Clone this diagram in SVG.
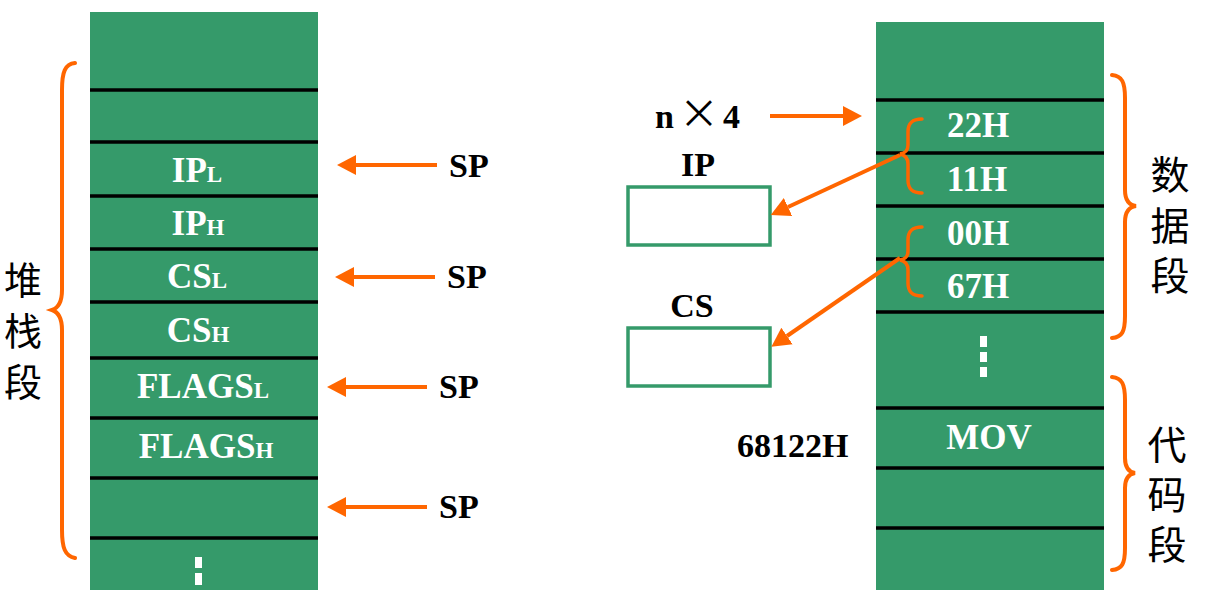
<svg xmlns="http://www.w3.org/2000/svg" width="1208" height="590" viewBox="0 0 1208 590">
<style>
.col{fill:#359a6a}
.sep{stroke:#000;stroke-width:3.5}
.cell{font-family:"Liberation Serif",serif;font-weight:bold;font-size:35px;fill:#fff;text-anchor:middle}
.sub{font-size:23px}
.lbl{font-family:"Liberation Serif",serif;font-weight:bold;font-size:34px;fill:#000}
.cjk{font-family:"Noto Sans CJK SC",sans-serif;font-size:39px;fill:#000;writing-mode:vertical-rl;text-anchor:start}
.br{fill:none;stroke:#ff6600;stroke-width:4;stroke-linecap:round}
.brs{fill:none;stroke:#ff6600;stroke-width:3.5;stroke-linecap:round}
.arr{stroke:#ff6600;stroke-width:4;fill:none}
.box{fill:#fff;stroke:#359a6a;stroke-width:3.5}
.dot{fill:#fff}
</style>
<defs>
<marker id="ah" markerUnits="userSpaceOnUse" markerWidth="20" markerHeight="22" viewBox="0 -11 20 22" refX="0" refY="0" orient="auto">
<path d="M0,-10 L19,0 L0,10 z" fill="#ff6600"/>
</marker>
</defs>

<g id="stack">
<rect class="col" x="90" y="12" width="228" height="578"/>
<line class="sep" x1="90" y1="90" x2="318" y2="90"/>
<line class="sep" x1="90" y1="142" x2="318" y2="142"/>
<line class="sep" x1="90" y1="196" x2="318" y2="196"/>
<line class="sep" x1="90" y1="249" x2="318" y2="249"/>
<line class="sep" x1="90" y1="302" x2="318" y2="302"/>
<line class="sep" x1="90" y1="358" x2="318" y2="358"/>
<line class="sep" x1="90" y1="418" x2="318" y2="418"/>
<line class="sep" x1="90" y1="478" x2="318" y2="478"/>
<line class="sep" x1="90" y1="538" x2="318" y2="538"/>
<text class="cell" x="197" y="182">IP<tspan class="sub">L</tspan></text>
<text class="cell" x="198" y="235">IP<tspan class="sub">H</tspan></text>
<text class="cell" x="197" y="288">CS<tspan class="sub">L</tspan></text>
<text class="cell" x="198" y="342">CS<tspan class="sub">H</tspan></text>
<text class="cell" x="203" y="398">FLAGS<tspan class="sub">L</tspan></text>
<text class="cell" x="206" y="458">FLAGS<tspan class="sub">H</tspan></text>
<rect class="dot" x="195" y="557" width="7" height="11"/>
<rect class="dot" x="195" y="573" width="7" height="12"/>
</g>

<g id="stack-label">
<path class="br" d="M75,63 C65,64 62,72 62,90 L62,290 C62,302 58,308 52,310 C58,312 62,318 62,330 L62,530 C62,548 65,556 75,558"/>
<text class="cjk" x="23" y="261" style="font-size:38px;letter-spacing:13px">堆栈段</text>
</g>

<g id="sp-labels">
<text class="lbl" x="449" y="177">SP</text>
<text class="lbl" x="447" y="288">SP</text>
<text class="lbl" x="439" y="398">SP</text>
<text class="lbl" x="439" y="518">SP</text>
</g>

<g id="memory">
<rect class="col" x="876" y="22" width="228" height="568"/>
<line class="sep" x1="876" y1="100" x2="1104" y2="100"/>
<line class="sep" x1="876" y1="153" x2="1104" y2="153"/>
<line class="sep" x1="876" y1="206" x2="1104" y2="206"/>
<line class="sep" x1="876" y1="259" x2="1104" y2="259"/>
<line class="sep" x1="876" y1="312" x2="1104" y2="312"/>
<line class="sep" x1="876" y1="408" x2="1104" y2="408"/>
<line class="sep" x1="876" y1="468" x2="1104" y2="468"/>
<line class="sep" x1="876" y1="528" x2="1104" y2="528"/>
<text class="cell" x="978" y="137">22H</text>
<text class="cell" x="977" y="191">11H</text>
<text class="cell" x="978" y="245">00H</text>
<text class="cell" x="978" y="298">67H</text>
<text class="cell" x="989" y="449">MOV</text>
<rect class="dot" x="980" y="336" width="7" height="11"/>
<rect class="dot" x="980" y="352" width="7" height="10"/>
<rect class="dot" x="980" y="367" width="7" height="10"/>
<path class="brs" d="M922,119 C912,119 908,123 908,132 L908,145 C908,151 905,153 900,154 C905,155 908,158 908,164 L908,180 C908,189 912,193 922,193"/>
<path class="brs" d="M922,227 C912,227 908,231 908,240 L908,251 C908,257 905,259 900,260 C905,261 908,264 908,270 L908,283 C908,292 912,296 922,296"/>
</g>

<g id="data-label">
<path class="br" d="M1112,75 C1122,76 1125,82 1125,98 L1125,190 C1125,200 1129,205 1136,206 C1129,207 1125,212 1125,222 L1125,316 C1125,332 1122,337 1112,338"/>
<text class="cjk" x="1170" y="155" style="letter-spacing:11.5px">数据段</text>
</g>

<g id="code-label">
<path class="br" d="M1112,377 C1122,378 1125,384 1125,400 L1125,458 C1125,468 1129,472 1135,473 C1129,474 1125,478 1125,488 L1125,548 C1125,564 1122,569 1112,570"/>
<text class="cjk" x="1167" y="425" style="letter-spacing:11px">代码段</text>
</g>

<g id="ip-reg">
<text class="lbl" x="698" y="176" text-anchor="middle">IP</text>
<rect class="box" x="628" y="187" width="142" height="58"/>
</g>

<g id="cs-reg">
<text class="lbl" x="692" y="317" text-anchor="middle">CS</text>
<rect class="box" x="628" y="328" width="142" height="58"/>
</g>

<g id="vector-label">
<text class="lbl" x="655" y="128">n<tspan x="679" style="font-weight:normal;font-family:'Noto Sans CJK SC',sans-serif;font-size:40px">×</tspan><tspan x="723">4</tspan></text>
</g>

<g id="addr-label">
<text class="lbl" x="737" y="457">68122H</text>
</g>

<g id="connectors">
<line class="arr" x1="437" y1="165" x2="356" y2="165" marker-end="url(#ah)"/>
<line class="arr" x1="435" y1="277" x2="354" y2="277" marker-end="url(#ah)"/>
<line class="arr" x1="427" y1="387" x2="346" y2="387" marker-end="url(#ah)"/>
<line class="arr" x1="427" y1="507" x2="346" y2="507" marker-end="url(#ah)"/>
<line class="arr" x1="770" y1="116" x2="843" y2="116" marker-end="url(#ah)"/>
<line class="arr" x1="900" y1="155" x2="788" y2="207" marker-end="url(#ah)"/>
<line class="arr" x1="900" y1="258" x2="787" y2="336" marker-end="url(#ah)"/>
</g>
</svg>
